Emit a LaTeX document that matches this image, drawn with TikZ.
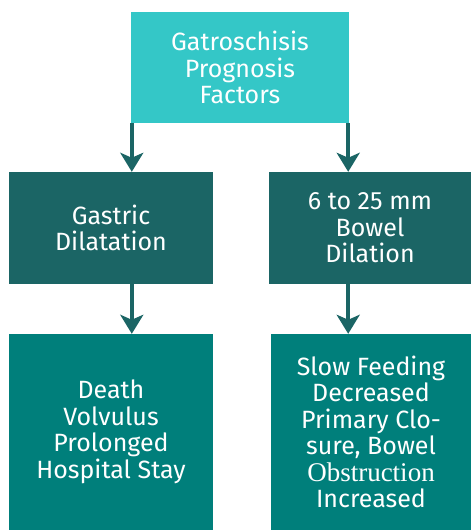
\documentclass[tikz,border=0pt]{standalone}
\usepackage{fontspec}
\setmainfont{Fira Sans}
\newfontfamily\oddserif{Liberation Serif}
\usetikzlibrary{arrows.meta,positioning}
\definecolor{topcyan}{HTML}{34C7C7}
\definecolor{darkteal}{HTML}{1B6565}
\definecolor{midteal}{HTML}{007F7B}

\begin{document}
\begin{tikzpicture}
            [x=1pt, y=1pt, font=\fontsize{25}{26.5}\selectfont,
             box/.style={rectangle, fill=#1, text=white, align=center, inner sep=0pt},
             flow/.style={-{Stealth[width=23pt,length=19pt,inset=5pt]}, line width=3.5pt, darkteal}]
            \useasboundingbox (0,0) rectangle (471,530);
            \node[box=topcyan, minimum width=218pt, minimum height=111pt] (factors) at (240,462.5) {
                Gatroschisis\\Prognosis\\Factors
            };
            \node[box=darkteal, minimum width=204pt, minimum height=112pt] (gastric) at (111,302) {
                Gastric\\Dilatation
            };
            \node[box=darkteal, minimum width=202pt, minimum height=112pt] (bowel) at (370,302) {
                6 to 25 mm\\Bowel\\Dilation
            };
            \node[box=midteal, minimum width=204pt, minimum height=196pt] (death) at (111,98) {
                Death\\Volvulus\\Prolonged\\Hospital Stay
            };
            \node[box=midteal, minimum width=200pt, minimum height=196pt] (feeding) at (371,98) {
                Slow Feeding\\Decreased\\Primary Clo-\\sure, Bowel\\{\oddserif\fontsize{27}{26.5}\selectfont Obstruction}\\Increased
            };

            \coordinate (lcol) at ([xshift=1pt]factors.south west);
            \coordinate (rcol) at ([xshift=-1pt]factors.south east);
            \draw[flow] (lcol) -- (lcol |- gastric.north);
            \draw[flow] (rcol) -- (rcol |- bowel.north);
            \draw[flow] (lcol |- gastric.south) -- (lcol |- death.north);
            \draw[flow] (rcol |- bowel.south) -- (rcol |- feeding.north);
        \end{tikzpicture}
\end{document}
